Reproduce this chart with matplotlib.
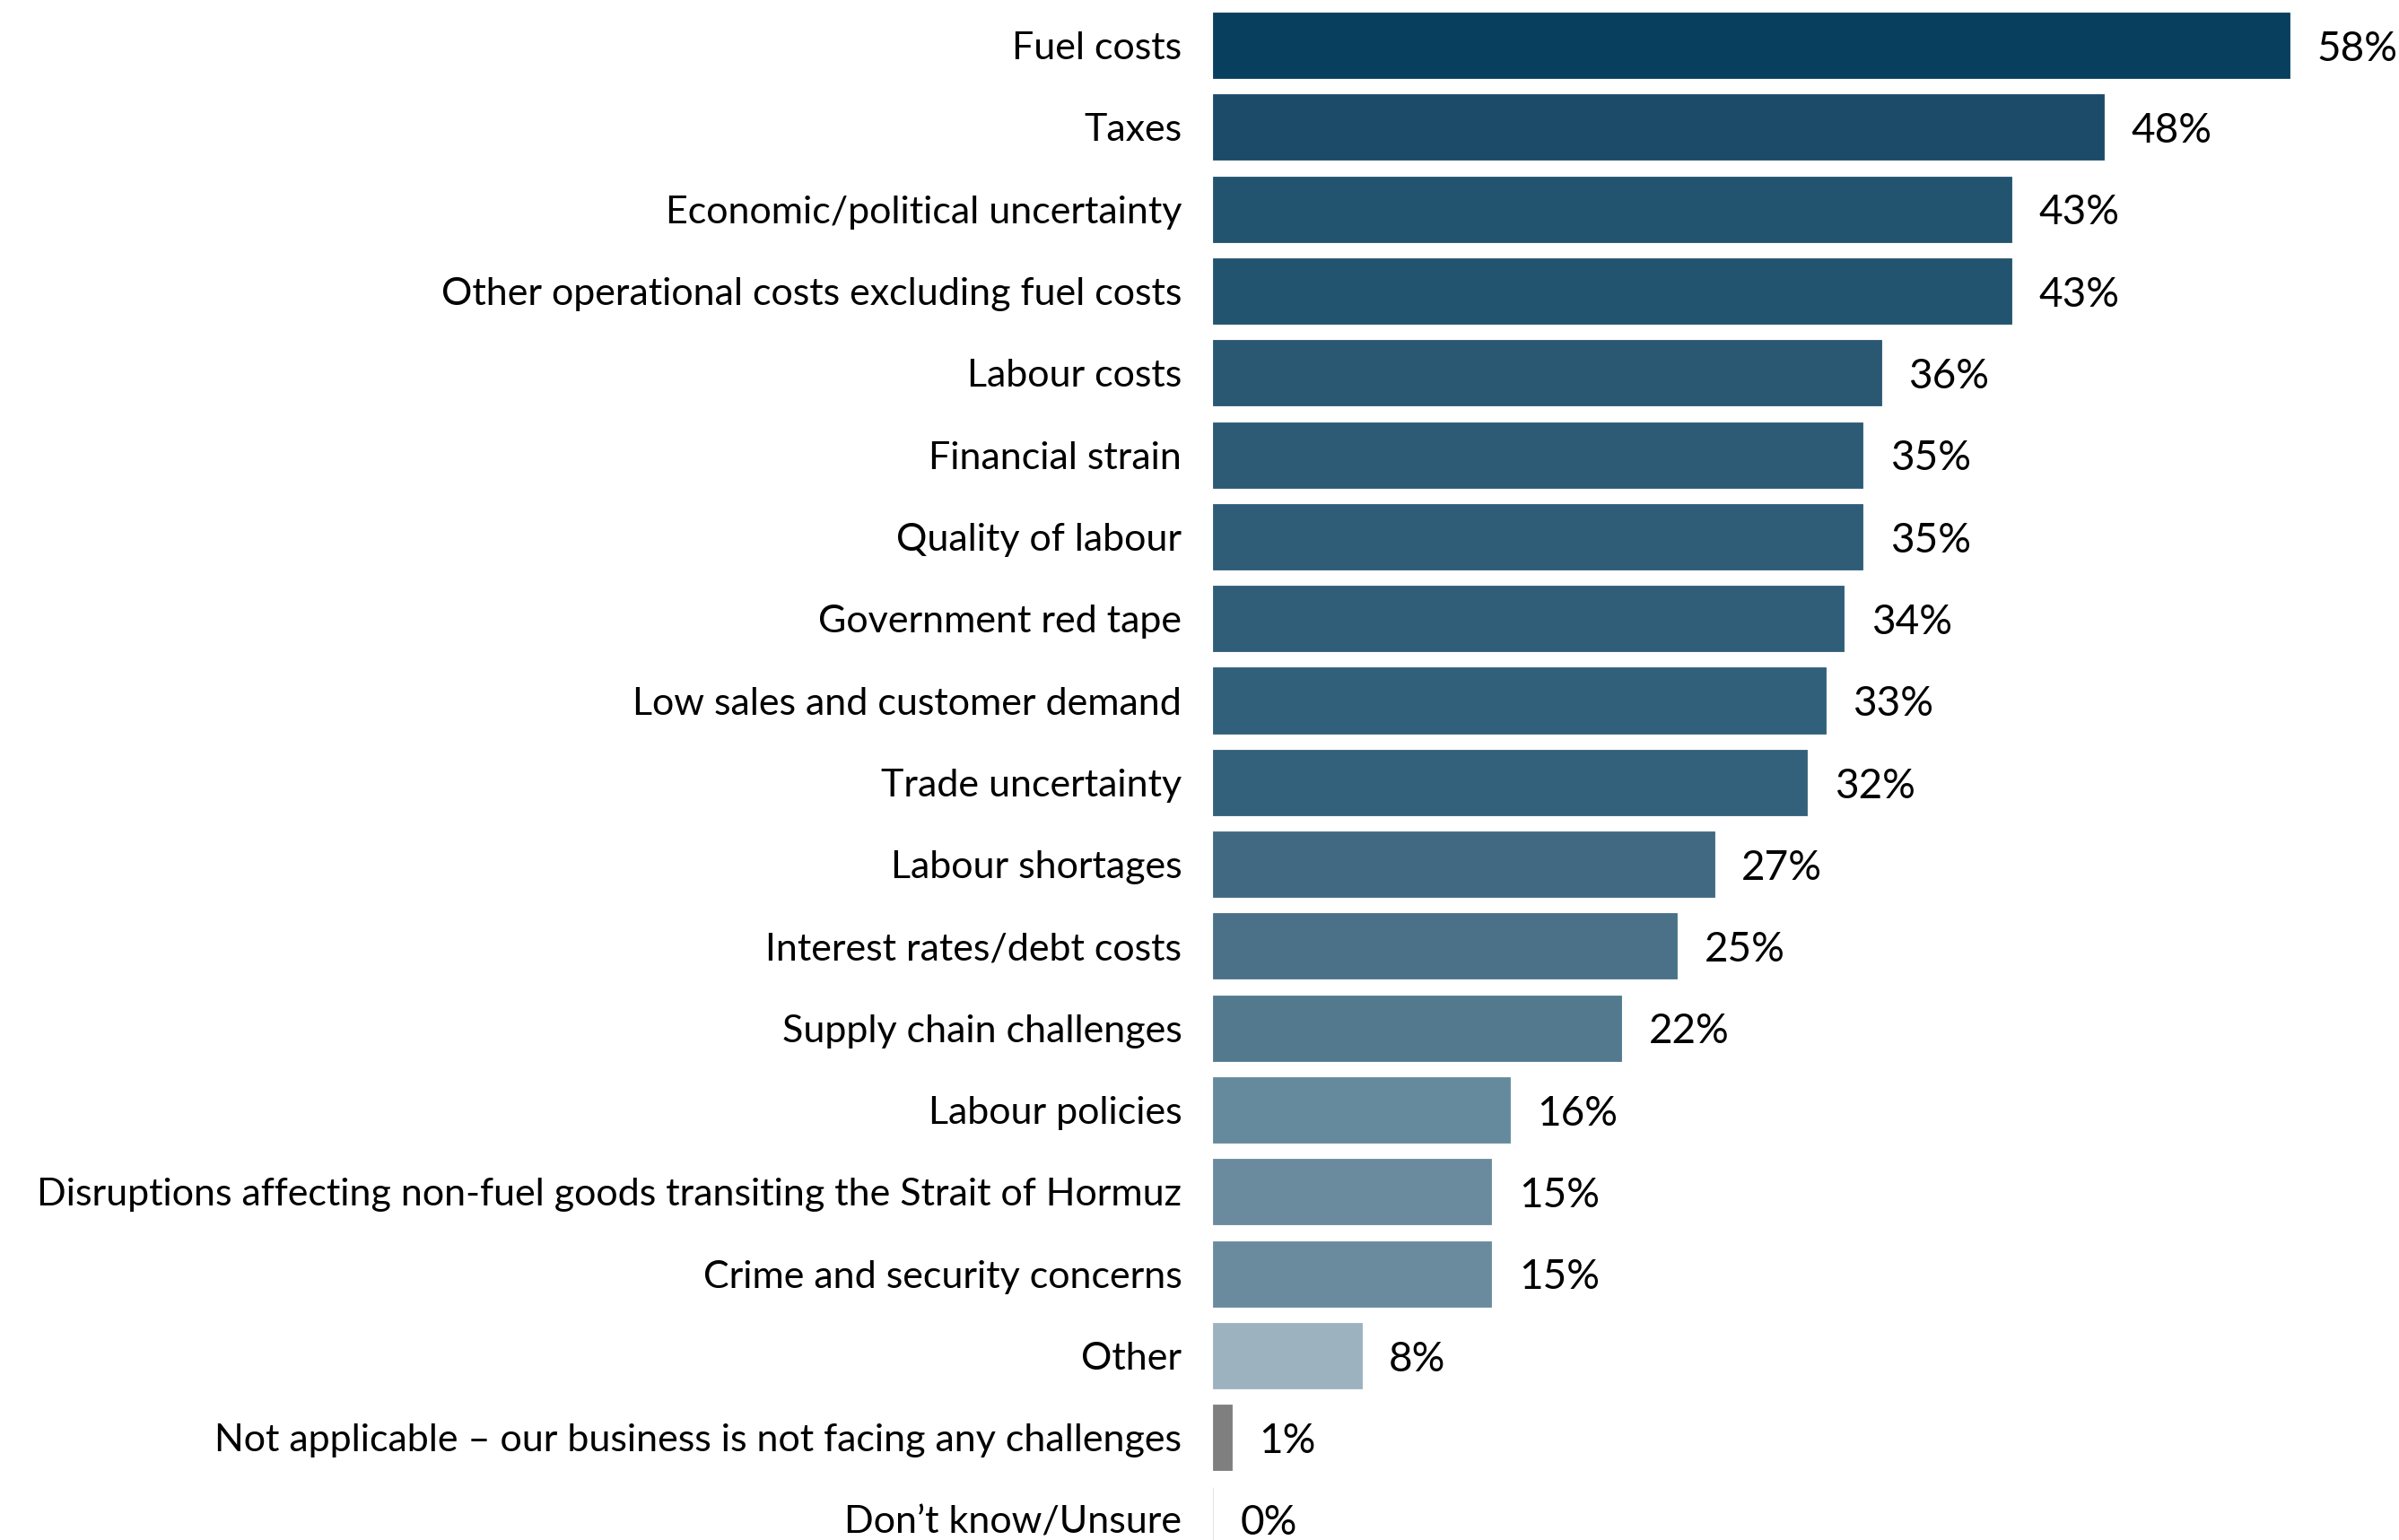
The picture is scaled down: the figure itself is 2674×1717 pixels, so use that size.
import matplotlib.pyplot as plt

# business challenges, share of respondents (%)
challenges = [
    'Fuel costs',
    'Taxes',
    'Economic/political uncertainty',
    'Other operational costs excluding fuel costs',
    'Labour costs',
    'Financial strain',
    'Quality of labour',
    'Government red tape',
    'Low sales and customer demand',
    'Trade uncertainty',
    'Labour shortages',
    'Interest rates/debt costs',
    'Supply chain challenges',
    'Labour policies',
    'Disruptions affecting non-fuel goods transiting the Strait of Hormuz',
    'Crime and security concerns',
    'Other',
    'Not applicable \u2013 our business is not facing any challenges',
    'Don\u2019t know/Unsure',
]
shares = [58, 48, 43, 43, 36, 35, 35, 34, 33, 32, 27, 25, 22, 16, 15, 15, 8, 1, 0]
colours = [
    '#093f5e', '#1c4b6a', '#23546f', '#23546f', '#2a5873', '#2d5b76',
    '#2f5d78', '#305e79', '#31607a', '#33617b', '#416a82', '#4a7188',
    '#53798f', '#658a9d', '#6a8b9e', '#6a8b9e', '#9db2bf', '#7f7f7f',
    '#e0e0e0',
]

plt.rcParams['font.family'] = ['Lato', 'DejaVu Sans']

fig = plt.figure(figsize=(26.74, 17.17), dpi=100)
ax = fig.add_axes([1352 / 2674, 0, 1 - 1352 / 2674, 1])

ypos = list(range(len(challenges)))
bars = ax.barh(ypos, shares, height=0.8, color=colours,
               edgecolor=colours, linewidth=0.6)

for y, v in zip(ypos, shares):
    ax.annotate(f'{v}%', (v, y), xytext=(22, -3), textcoords='offset points',
                ha='left', va='center', fontsize=33, color='black')

ax.set_yticks(ypos)
ax.set_yticklabels(challenges, fontsize=31)
ax.tick_params(axis='y', length=0, pad=25)
ax.set_xticks([])
ax.set_xlim(0, 63.9)
ax.set_ylim(18.25, -0.553)
for side in ax.spines.values():
    side.set_visible(False)

fig.savefig('out.png', dpi=100)
